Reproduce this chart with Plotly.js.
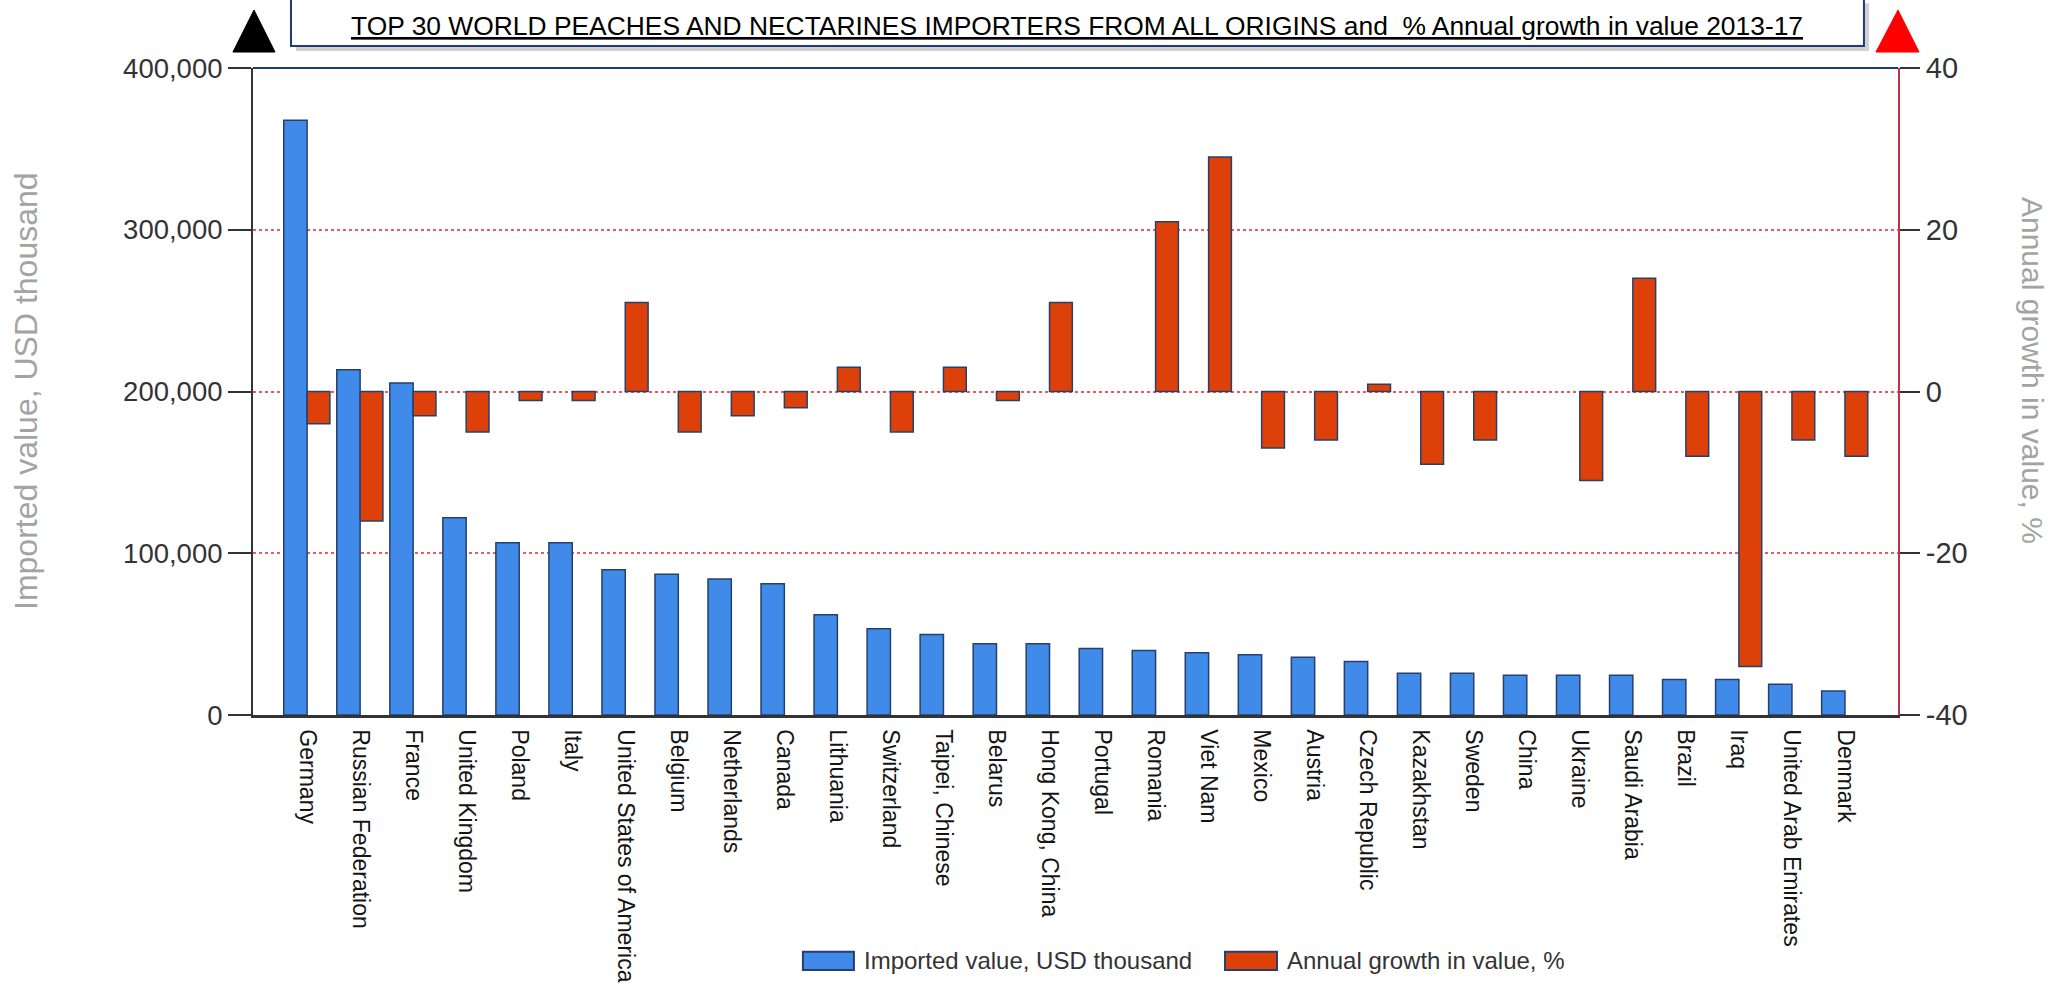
<!DOCTYPE html>
<html>
<head>
<meta charset="utf-8">
<script src="https://cdn.plot.ly/plotly-3.0.1.min.js"></script>
<style>html,body{margin:0;padding:0;background:#fff;}#chart{width:2053px;height:991px;}</style>
</head>
<body>
<div id="chart"></div>
<script>
const countries = ['Germany','Russian Federation','France','United Kingdom','Poland','Italy','United States of America','Belgium','Netherlands','Canada','Lithuania','Switzerland','Taipei, Chinese','Belarus','Hong Kong, China','Portugal','Romania','Viet Nam','Mexico','Austria','Czech Republic','Kazakhstan','Sweden','China','Ukraine','Saudi Arabia','Brazil','Iraq','United Arab Emirates','Denmark'];
const importedValue = [367700, 213500, 205200, 121900, 106500, 106500, 89800, 87000, 84100, 81200, 62000, 53400, 49700, 44000, 44000, 41100, 39800, 38500, 37200, 35700, 33100, 25800, 25800, 24500, 24500, 24500, 21900, 21900, 19000, 14800];
const annualGrowth = [-4, -16, -3, -5, -1.1, -1.1, 11, -5, -3, -2, 3, -5, 3, -1.1, 11, null, 21, 29, -7, -6, 0.9, -9, -6, null, -11, 14, -8, -34, -6, -8];
const leftTicks = [0, 100000, 200000, 300000, 400000];
const leftTickText = ['0', '100,000', '200,000', '300,000', '400,000'];
const rightTicks = [-40, -20, 0, 20, 40];
const rightTickText = ['-40', '-20', '0', '20', '40'];
const titleText = 'TOP 30 WORLD PEACHES AND NECTARINES IMPORTERS FROM ALL ORIGINS and\u00a0\u00a0% Annual growth in value 2013-17';
const seriesNames = ['Imported value, USD thousand', 'Annual growth in value, %'];

const FONT = 'Liberation Sans, Arial, sans-serif';
const BLUE = '#408ae9';
const RED = '#de400a';
const OUTLINE = '#26406b';

const traces = [
  {
    type: 'bar', name: seriesNames[0], x: countries, y: importedValue,
    xaxis: 'x', yaxis: 'y', width: 0.44, offset: -0.44,
    marker: {color: BLUE, line: {color: OUTLINE, width: 1.5}},
    hoverinfo: 'x+y'
  },
  {
    type: 'bar', name: seriesNames[1], x: countries, y: annualGrowth,
    xaxis: 'x', yaxis: 'y2', width: 0.43, offset: 0,
    marker: {color: RED, line: {color: OUTLINE, width: 1.5}},
    hoverinfo: 'x+y'
  }
];

const layout = {
  width: 2053, height: 991,
  margin: {l: 253, r: 155, t: 68, b: 276, pad: 0},
  paper_bgcolor: '#fff', plot_bgcolor: '#fff',
  showlegend: false,
  barmode: 'overlay',
  font: {family: FONT, color: '#222'},
  xaxis: {
    type: 'category', range: [-1.02, 30],
    showline: true, linecolor: '#333', linewidth: 2.5,
    showgrid: false, zeroline: false,
    ticks: 'outside', ticklen: 7, tickcolor: 'rgba(0,0,0,0)',
    tickangle: 90, tickfont: {family: FONT, size: 23, color: '#141414'},
    automargin: false
  },
  yaxis: {
    range: [0, 400000], tickvals: leftTicks, ticktext: leftTickText,
    showline: true, linecolor: '#333', linewidth: 2,
    ticks: 'outside', ticklen: 23, tickwidth: 2, tickcolor: '#333',
    tickfont: {family: FONT, size: 27.5, color: '#333'},
    showgrid: true, gridcolor: '#f25a5a', gridwidth: 2, griddash: 'dot',
    zeroline: false, automargin: false
  },
  yaxis2: {
    overlaying: 'y', side: 'right', range: [-40, 40],
    tickvals: rightTicks, ticktext: rightTickText,
    showline: true, linecolor: '#b8344e', linewidth: 2,
    ticks: 'outside', ticklen: 20, tickwidth: 2, tickcolor: '#333',
    tickfont: {family: FONT, size: 29, color: '#333'},
    showgrid: false, zeroline: false, automargin: false
  },
  shapes: [
    {type: 'line', xref: 'paper', yref: 'paper', x0: 0, x1: 1, y0: 1, y1: 1, line: {color: '#1f3a7a', width: 2}},
    {type: 'rect', xref: 'paper', yref: 'paper', x0: 0.0261, x1: 0.9824, y0: 1.0263, y1: 1.10, fillcolor: 'rgba(0,0,0,0.18)', line: {width: 0}, layer: 'above'},
    {type: 'rect', xref: 'paper', yref: 'paper', x0: 0.0231, x1: 0.9793, y0: 1.0340, y1: 1.1097, fillcolor: '#fff', line: {color: '#1f3a7a', width: 2}, layer: 'above'},
    {type: 'path', xref: 'paper', yref: 'paper', path: 'M 0.0006 1.0896 L -0.0122 1.0247 L 0.0134 1.0247 Z', fillcolor: '#000', line: {color: '#000', width: 1}},
    {type: 'path', xref: 'paper', yref: 'paper', path: 'M 1.0 1.0896 L 0.9866 1.0247 L 1.0128 1.0247 Z', fillcolor: '#ff0000', line: {color: '#ff0000', width: 1}},
    {type: 'rect', xref: 'paper', yref: 'paper', x0: 0.3343, x1: 0.3653, y0: -0.394, y1: -0.366, fillcolor: BLUE, line: {color: OUTLINE, width: 2}},
    {type: 'rect', xref: 'paper', yref: 'paper', x0: 0.5909, x1: 0.6225, y0: -0.394, y1: -0.366, fillcolor: RED, line: {color: OUTLINE, width: 2}}
  ],
  annotations: [
    {xref: 'paper', yref: 'paper', x: 0.5009, y: 1.0649, xanchor: 'center', yanchor: 'middle', showarrow: false,
     text: '<u>' + titleText + '</u>', font: {family: FONT, size: 26.4, color: '#000'}},
    {xref: 'paper', yref: 'paper', x: -0.138, y: 0.5008, xanchor: 'center', yanchor: 'middle', showarrow: false,
     textangle: -90, text: seriesNames[0], font: {family: FONT, size: 32, color: '#a3a3a3'}},
    {xref: 'paper', yref: 'paper', x: 1.0821, y: 0.5332, xanchor: 'center', yanchor: 'middle', showarrow: false,
     textangle: 90, text: seriesNames[1], font: {family: FONT, size: 30, color: '#a3a3a3'}},
    {xref: 'paper', yref: 'paper', x: 0.3702, y: -0.380, xanchor: 'left', yanchor: 'middle', showarrow: false,
     text: seriesNames[0], font: {family: FONT, size: 24, color: '#333'}},
    {xref: 'paper', yref: 'paper', x: 0.6274, y: -0.380, xanchor: 'left', yanchor: 'middle', showarrow: false,
     text: seriesNames[1], font: {family: FONT, size: 24, color: '#333'}}
  ]
};

Plotly.newPlot('chart', traces, layout, {displayModeBar: false, responsive: false});
</script>
</body>
</html>
